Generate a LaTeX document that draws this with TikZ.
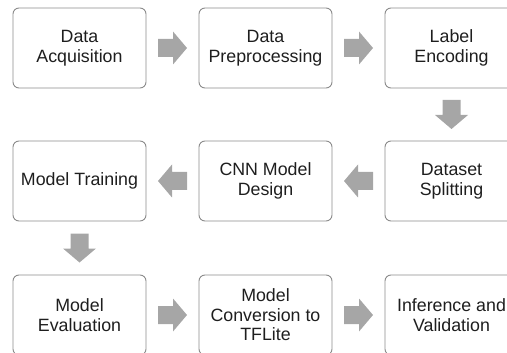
\documentclass[tikz,border=0pt]{standalone}
\usepackage{fontspec}
\setmainfont{Liberation Sans}
\usetikzlibrary{calc}
\definecolor{boxline}{HTML}{8A8A8A}
\definecolor{arrowgray}{HTML}{A6A6A6}
\definecolor{textdark}{HTML}{1E1E1E}
\tikzset{
  stagebox/.style={draw=boxline, line width=0.9pt, rounded corners=6pt,
    minimum width=133pt, minimum height=80pt, align=center,
    text=textdark, font=\fontsize{17.8}{19.5}\selectfont},
  blockarrow/.pic={
    \fill[arrowgray] (-14.5,-9) -- (0.5,-9) -- (0.5,-16.5) -- (14.5,0)
      -- (0.5,16.5) -- (0.5,9) -- (-14.5,9) -- cycle;
  }
}
\begin{document}
\begin{tikzpicture}[x=1pt, y=-1pt]
\useasboundingbox (0,0) rectangle (507,353);
% stages, three rows of three
\node[stagebox] (acq)   at (79.5,48)  {Data\\Acquisition};
\node[stagebox] (prep)  at (265.5,48) {Data\\Preprocessing};
\node[stagebox] (enc)   at (451.5,48) {Label\\Encoding};
\node[stagebox] (train) at (79.5,181) {Model Training};
\node[stagebox] (cnn)   at (265.5,181) {CNN Model\\Design};
\node[stagebox] (split) at (451.5,181) {Dataset\\Splitting};
\node[stagebox] (eval)  at (79.5,315) {Model\\Evaluation};
\node[stagebox] (conv)  at (265.5,315) {Model\\Conversion to\\TFLite};
\node[stagebox] (infer) at (451.5,315) {Inference and\\Validation};
% block arrows between consecutive stages
\pic at ($(acq.east)!0.5!(prep.west)$) {blockarrow};
\pic at ($(prep.east)!0.5!(enc.west)$) {blockarrow};
\pic[rotate=-90] at ($(enc.south)!0.5!(split.north)$) {blockarrow};
\pic[rotate=180] at ($(split.west)!0.5!(cnn.east)$) {blockarrow};
\pic[rotate=180] at ($(cnn.west)!0.5!(train.east)$) {blockarrow};
\pic[rotate=-90] at ($(train.south)!0.5!(eval.north)$) {blockarrow};
\pic at ($(eval.east)!0.5!(conv.west)$) {blockarrow};
\pic at ($(conv.east)!0.5!(infer.west)$) {blockarrow};
\end{tikzpicture}
\end{document}
